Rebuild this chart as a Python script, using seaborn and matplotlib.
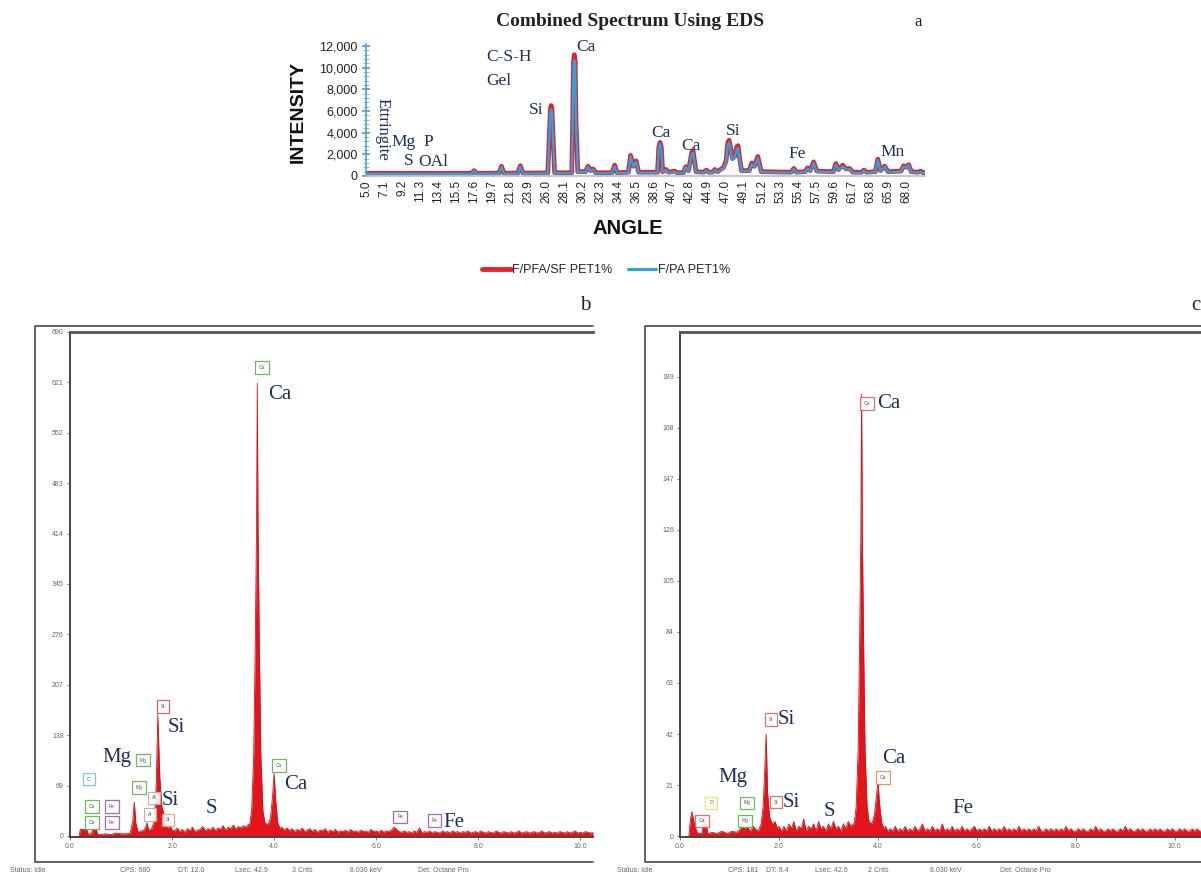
import numpy as np
import pandas as pd
import seaborn as sns
import matplotlib.pyplot as plt
from matplotlib.lines import Line2D
from matplotlib.ticker import MultipleLocator, FuncFormatter

W, H = 1201, 877

# ---------------- panel a : combined spectrum (angle vs intensity) ----------------
angle = [5.0, 17.3, 17.6, 17.9, 20.5, 20.8, 21.1, 22.7, 23.0, 23.3,
         26.2, 26.4, 26.5, 26.6, 26.7, 26.8, 27.0,
         29.0, 29.1, 29.2, 29.3, 29.4, 29.5, 29.7,
         30.6, 30.9, 31.2, 31.5, 31.8, 33.7, 34.0, 34.3, 35.6, 35.85,
         36.2, 36.5, 36.8, 39.0, 39.15, 39.3, 39.45, 39.6, 40.0, 40.3,
         41.0, 41.3, 42.0, 42.3, 42.6, 42.85, 43.0, 43.15, 43.3, 43.5,
         44.4, 44.7, 45.0, 45.4, 45.7, 46.0, 46.7, 47.0, 47.2, 47.35,
         47.5, 47.75, 48.0, 48.25, 48.4, 48.6, 48.8,
         49.7, 50.0, 50.3, 50.7, 51.1, 54.6, 54.9, 55.2, 56.2,
         56.5, 56.8, 57.2, 57.6, 59.5, 59.8, 60.1, 60.6, 61.0, 61.4,
         61.8, 62.8, 63.1, 63.4, 64.4, 64.7, 65.0, 65.5, 65.9, 67.4,
         67.7, 68.0, 68.3, 68.6, 69.4, 69.7, 70.0, 70.2]
pfa_sf = [250, 250, 500, 250, 260, 900, 260, 270, 950, 270,
          280, 4000, 6100, 6500, 6100, 4000, 300,
          300, 5000, 10500, 11200, 10500, 5000, 400,
          400, 900, 500, 650, 300, 300, 1000, 300, 350, 1900,
          900, 1400, 350, 350, 2600, 3100, 2600, 400, 600, 350,
          450, 300, 300, 850, 500, 1500, 2200, 2300, 1500, 400,
          350, 550, 350, 350, 600, 400, 800, 1400, 3100, 3300,
          2700, 1600, 1800, 2700, 2800, 1500, 500,
          500, 1200, 900, 1800, 400, 350, 700, 350, 400,
          750, 500, 1300, 450, 400, 1150, 600, 1000, 650, 700,
          350, 350, 550, 350, 400, 1550, 500, 900, 400, 450,
          950, 800, 1050, 400, 350, 450, 300, 300]
pa = [200, 200, 480, 200, 210, 850, 210, 220, 900, 220,
      230, 3700, 5800, 6150, 5800, 3700, 250,
      250, 4700, 10000, 10700, 10000, 4700, 350,
      350, 850, 450, 600, 250, 250, 900, 250, 300, 1800,
      850, 1300, 300, 300, 2450, 2950, 2450, 350, 550, 300,
      400, 250, 250, 800, 450, 1400, 2050, 2150, 1400, 350,
      300, 500, 300, 300, 550, 350, 750, 1300, 2900, 3100,
      2500, 1500, 1700, 2500, 2600, 1400, 450,
      450, 1100, 850, 1650, 350, 300, 650, 300, 350,
      700, 450, 1200, 400, 350, 1050, 550, 900, 600, 650,
      300, 300, 500, 300, 350, 1450, 450, 850, 350, 400,
      900, 750, 1000, 350, 300, 400, 250, 250]
angle_ticks = [5.0, 7.1, 9.2, 11.3, 13.4, 15.5, 17.6, 19.7, 21.8, 23.9, 26.0,
               28.1, 30.2, 32.3, 34.4, 36.5, 38.6, 40.7, 42.8, 44.9, 47.0,
               49.1, 51.2, 53.3, 55.4, 57.5, 59.6, 61.7, 63.8, 65.9, 68.0]
a_labels = [("Mg", 9.4, 3140), ("P", 12.3, 3140), ("S", 10.0, 1385),
            ("OAl", 12.9, 1290), ("C-S-H", 21.7, 10980), ("Gel", 20.5, 8770),
            ("Si", 24.8, 6090), ("Ca", 30.6, 11900), ("Ca", 39.4, 3970),
            ("Ca", 42.9, 2770), ("Si", 47.8, 4150), ("Fe", 55.3, 2030),
            ("Mn", 66.4, 2215)]

# ---------------- panel b : EDS spectrum F/PFA/SF PET1% ----------------
b_low_e = [0.18, 0.20, 0.25, 0.33, 0.35, 0.42, 0.44, 0.52, 0.54, 0.60, 0.70, 0.80,
           0.90, 1.00, 1.10, 1.18, 1.23, 1.26, 1.29, 1.33, 1.40, 1.45, 1.48, 1.51,
           1.54, 1.60, 1.65, 1.69, 1.72, 1.76, 1.80, 1.84, 1.88, 1.93, 1.96, 2.00]
b_low_c = [0, 9, 9, 9, 3, 3, 9, 9, 2, 2, 3, 2,
           4, 3, 3, 4, 20, 46, 18, 6, 7, 8, 12, 18,
           8, 10, 20, 70, 166, 80, 40, 30, 15, 10, 15, 8]
b_mid_c = [7, 11, 6, 9, 5, 10, 7, 12, 6, 8, 9, 13, 7, 10, 8,
           12, 7, 11, 9, 14, 8, 12, 10, 15, 9, 13, 11, 14, 12, 16]
ca_e = [3.52, 3.56, 3.60, 3.63, 3.655, 3.67, 3.685, 3.71, 3.74, 3.78, 3.82,
        3.88, 3.93, 3.97, 4.00, 4.03, 4.07, 4.12]
b_ca_c = [15, 35, 110, 260, 420, 620, 420, 260, 110, 35, 18,
          15, 25, 55, 86, 50, 18, 10]
b_tail_c = [12, 8, 11, 7, 10, 6, 9, 7, 11, 6,
            8, 10, 6, 9, 5, 8, 7, 10, 5, 8,
            6, 9, 5, 7, 6, 8, 5, 9, 6, 7,
            5, 8, 6, 7, 5, 9, 6, 7, 5, 8,
            5, 7, 6, 8, 12, 9, 6, 5, 7, 5,
            6, 4, 7, 5, 11, 4, 6, 5, 7, 4,
            6, 5, 4, 7, 5, 6, 4, 7, 5, 6,
            4, 6, 5, 7, 4, 5, 6, 4, 7, 5,
            4, 6, 5, 4, 7, 5, 4, 6, 5, 4,
            6, 4, 5, 7, 4, 5, 6, 4, 5, 6,
            4, 5, 7, 4, 5, 6, 4, 5, 4, 6,
            5, 4, 6, 4, 5, 7, 4, 5, 4, 6,
            5, 4, 5]

# ---------------- panel c : EDS spectrum F/PA PET1% ----------------
c_low_e = [0.18, 0.21, 0.24, 0.28, 0.32, 0.36, 0.44, 0.47, 0.50, 0.53, 0.56, 0.65,
           0.75, 0.85, 0.95, 1.05, 1.15, 1.22, 1.26, 1.30, 1.36, 1.42, 1.48, 1.52,
           1.58, 1.64, 1.68, 1.71, 1.74, 1.77, 1.81, 1.86, 1.92, 1.97, 2.00]
c_low_c = [0, 7, 10, 6, 3, 1, 1, 6, 8, 5, 1, 1.5,
           1, 2, 1, 2, 1.5, 3, 5, 3, 4, 2, 4, 3,
           2, 5, 12, 26, 42, 18, 8, 5, 6, 3, 4]
c_mid_c = [2, 4, 2, 5, 3, 6, 2, 4, 3, 7, 2, 4, 3, 5, 2,
           6, 3, 4, 2, 5, 3, 6, 3, 4, 2, 5, 3, 6, 4, 5]
c_ca_c = [5, 12, 35, 80, 125, 182, 125, 80, 35, 12, 6,
          5, 9, 16, 23, 14, 6, 3]
c_tail_c = [4, 2, 3, 2, 4, 2, 3, 2, 4, 2,
            3, 2, 4, 2, 3, 5, 2, 3, 2, 4,
            2, 3, 2, 5, 2, 3, 2, 4, 2, 3,
            2, 4, 2, 3, 2, 3, 4, 2, 3, 2,
            3, 2, 4, 2, 3, 2, 3, 2, 4, 2,
            3, 2, 3, 2, 4, 2, 3, 2, 3, 2,
            3, 2, 4, 2, 2, 3, 2, 3, 2, 3,
            2, 3, 2, 4, 2, 3, 2, 2, 3, 2,
            3, 2, 2, 3, 2, 4, 2, 3, 2, 2,
            3, 2, 3, 2, 2, 3, 2, 4, 2, 3,
            2, 2, 3, 2, 3, 2, 2, 3, 2, 3,
            2, 3, 2, 2, 3, 2, 3, 2, 2, 3,
            2, 3, 2, 2, 3, 2, 3, 2, 2]

b_text = [("Ca", 3.88, 604), ("Si", 1.92, 149), ("Mg", 0.63, 108), ("Si", 1.80, 48),
          ("S", 2.65, 38), ("Ca", 4.20, 70), ("Fe", 7.31, 19)]
b_boxes = [("Ca", 3.76, 641, "#5fb04a"), ("Si", 1.82, 177, "#d9534f"),
           ("Mg", 1.43, 104, "#5fb04a"), ("C", 0.37, 78, "#6cc3e0"),
           ("Mg", 1.35, 66, "#5fb04a"), ("Al", 1.65, 52, "#b0b0b0"),
           ("Al", 1.57, 29, "#b0b0b0"), ("Ca", 0.43, 40, "#5fb04a"),
           ("Ca", 0.43, 18, "#5fb04a"), ("Fe", 0.82, 40, "#a05a9c"),
           ("Fe", 0.82, 18, "#a05a9c"), ("Si", 1.92, 22, "#e0a080"),
           ("Ca", 4.10, 96, "#5fb04a"), ("Fe", 6.47, 26, "#a05a9c"),
           ("Fe", 7.14, 21, "#a05a9c")]
c_text = [("Ca", 3.98, 178), ("Si", 1.98, 48), ("Mg", 0.77, 24), ("Si", 2.08, 14),
          ("S", 2.91, 10), ("Ca", 4.08, 32), ("Fe", 5.50, 11.5)]
c_boxes = [("Ca", 3.78, 178, "#e06060"), ("Si", 1.84, 48, "#e06060"),
           ("Si", 1.94, 14, "#e06060"), ("Ca", 4.10, 24, "#e08a50"),
           ("O", 0.63, 13.6, "#e6e070"), ("Mg", 1.35, 13.6, "#5fb04a"),
           ("Mg", 1.31, 6.2, "#5fb04a"), ("Ca", 0.44, 6.2, "#e06060")]

sns.set_theme(style="white")
plt.rcParams["font.family"] = ["Liberation Sans", "DejaVu Sans"]

fig = plt.figure(figsize=(W / 100, H / 100), dpi=100)
fig.patch.set_facecolor("white")

NAVY = "#1f2f5c"
SERIF = "Liberation Serif"


def px_axes(l, t, r, b):
    return fig.add_axes([l / W, 1 - b / H, (r - l) / W, (b - t) / H])


def fig_line(xs, ys, lw=1.2, color="#555555"):
    fig.add_artist(Line2D([x / W for x in xs], [1 - y / H for y in ys],
                          transform=fig.transFigure, lw=lw, color=color))


def fig_text(x, y, s, **kw):
    fig.text(x / W, 1 - y / H, s, **kw)


# ---- panel a ----
ax = px_axes(366, 44, 925, 176)
df_a = pd.DataFrame({"angle": angle, "F/PFA/SF PET1%": pfa_sf, "F/PA PET1%": pa})
sns.lineplot(data=df_a, x="angle", y="F/PFA/SF PET1%", ax=ax, color="#e8202a", lw=3.4)
sns.lineplot(data=df_a, x="angle", y="F/PA PET1%", ax=ax, color="#2aa3de", lw=1.7)
ax.set_xlim(5.0, 70.2)
ax.set_ylim(0, 12185)
ax.set_xticks(angle_ticks)
ax.set_xticklabels([f"{v:.1f}" for v in angle_ticks], rotation=90, fontsize=8.5, color="#222")
ax.set_yticks(range(0, 12001, 2000))
ax.yaxis.set_major_formatter(FuncFormatter(lambda v, p: f"{int(v):,}"))
ax.yaxis.set_minor_locator(MultipleLocator(400))
ax.tick_params(axis="y", which="major", direction="inout", length=6, color="#5b9bd5",
               labelsize=9, labelcolor="#222", pad=3, left=True)
ax.tick_params(axis="y", which="minor", direction="inout", length=4, width=0.7,
               color="#8fbce6", left=True)
ax.tick_params(axis="x", length=0, pad=3)
for s in ["top", "right"]:
    ax.spines[s].set_visible(False)
ax.spines["left"].set_color("#5b9bd5")
ax.spines["left"].set_linewidth(1.2)
ax.spines["bottom"].set_color("#bfbfbf")
ax.set_xlabel("")
ax.set_ylabel("")
ax.set_facecolor("white")
ax.text(6.9, 4340, "Ettringite", rotation=-90, ha="center", va="center",
        fontsize=12, family=SERIF, color=NAVY)
for lab, x, y in a_labels:
    ax.text(x, y, lab, ha="center", va="center", fontsize=12.5, family=SERIF, color=NAVY)

fig_text(630, 22, "Combined Spectrum Using EDS", ha="center", va="center",
         fontsize=14, fontweight="bold", family=SERIF, color="#222")
fig_text(918, 22, "a", ha="center", va="center", fontsize=12, family=SERIF, color="#222")
fig_text(298, 112, "INTENSITY", rotation=90, ha="center", va="center",
         fontsize=14, fontweight="bold", color="#111")
fig_text(628, 228, "ANGLE", ha="center", va="center", fontsize=14.5, fontweight="bold", color="#111")

handles = [Line2D([], [], color="#e8202a", lw=3.5), Line2D([], [], color="#2aa3de", lw=2.2)]
fig.legend(handles, ["F/PFA/SF PET1%", "F/PA PET1%"], loc="center",
           bbox_to_anchor=(606 / W, 1 - 270 / H), ncol=2, frameon=False,
           fontsize=9, handlelength=2.3, handletextpad=0.1, columnspacing=1.2)


# ---- panels b and c ----
def eds_panel(box, xlim, ylim, yticks, low_e, low_c, mid_c, ca_c, tail_c, tail_end,
              texts, boxes):
    l, t, r, b = box
    ax = px_axes(l, t, r, b)
    mid_e = np.round(np.arange(2.05, 3.5001, 0.05), 2)
    tail_e = np.round(np.arange(4.15, tail_end + 0.001, 0.05), 2)
    e = np.concatenate([low_e, mid_e, ca_e, tail_e])
    c = np.concatenate([low_c, mid_c, ca_c, tail_c])
    df = pd.DataFrame({"keV": e, "counts": c})
    ax.fill_between(df["keV"], 0, df["counts"], color="#e3141c", lw=0)
    sns.lineplot(data=df, x="keV", y="counts", ax=ax, color="#d8121a", lw=0.6)
    ax.set_xlim(*xlim)
    ax.set_ylim(*ylim)
    ax.set_xticks([0, 2, 4, 6, 8, 10])
    ax.set_xticklabels(["0.0", "2.0", "4.0", "6.0", "8.0", "10.0"])
    ax.set_yticks(yticks)
    ax.tick_params(axis="both", labelsize=5, labelcolor="#666", length=2.5,
                   width=0.6, color="#666", pad=2, left=True, bottom=True)
    ax.set_xlabel("")
    ax.set_ylabel("")
    ax.spines["right"].set_visible(False)
    ax.spines["top"].set_linewidth(2.0)
    ax.spines["top"].set_color("#555")
    for s in ["left", "bottom"]:
        ax.spines[s].set_linewidth(1.4)
        ax.spines[s].set_color("#444")
    for lab, x, y in texts:
        ax.text(x, y, lab, ha="left", va="center", fontsize=15, family=SERIF, color=NAVY)
    for lab, x, y, col in boxes:
        ax.text(x, y, lab, ha="center", va="center", fontsize=3.5, color="#555",
                bbox=dict(boxstyle="square,pad=0.8", fc="white", ec=col, lw=0.9, alpha=0.9))
    return ax


eds_panel((70, 332, 593, 837), (0, 10.25), (-1.4, 690), list(range(0, 691, 69)),
          b_low_e, b_low_c, b_mid_c, b_ca_c, b_tail_c, 10.25, b_text, b_boxes)
eds_panel((680, 332, 1201, 837), (0, 10.53), (-0.4, 207.5), list(range(0, 190, 21)),
          c_low_e, c_low_c, c_mid_c, c_ca_c, c_tail_c, 10.55, c_text, c_boxes)

# outer instrument frames
fig_line([593, 35, 35, 593], [326, 326, 862, 862], lw=1.3)
fig_line([1201, 645, 645, 1201], [326, 326, 862, 862], lw=1.3)
fig_text(585, 305, "b", ha="center", va="center", fontsize=15, family=SERIF, color="#222")
fig_text(1196, 305, "c", ha="center", va="center", fontsize=15, family=SERIF, color="#222")

status_b = [(10, "Status: Idle"), (120, "CPS: 680"), (178, "DT: 12.0"), (235, "Lsec: 42.9"),
            (292, "3 Cnts"), (350, "8.030 keV"), (418, "Det: Octane Pro")]
status_c = [(617, "Status: Idle"), (728, "CPS: 181"), (766, "DT: 9.4"), (815, "Lsec: 42.6"),
            (868, "2 Cnts"), (930, "8.030 keV"), (1000, "Det: Octane Pro")]
for x, s in status_b + status_c:
    fig_text(x, 871, s, ha="left", va="center", fontsize=5, color="#666")

fig.savefig("out.png", dpi=100)
